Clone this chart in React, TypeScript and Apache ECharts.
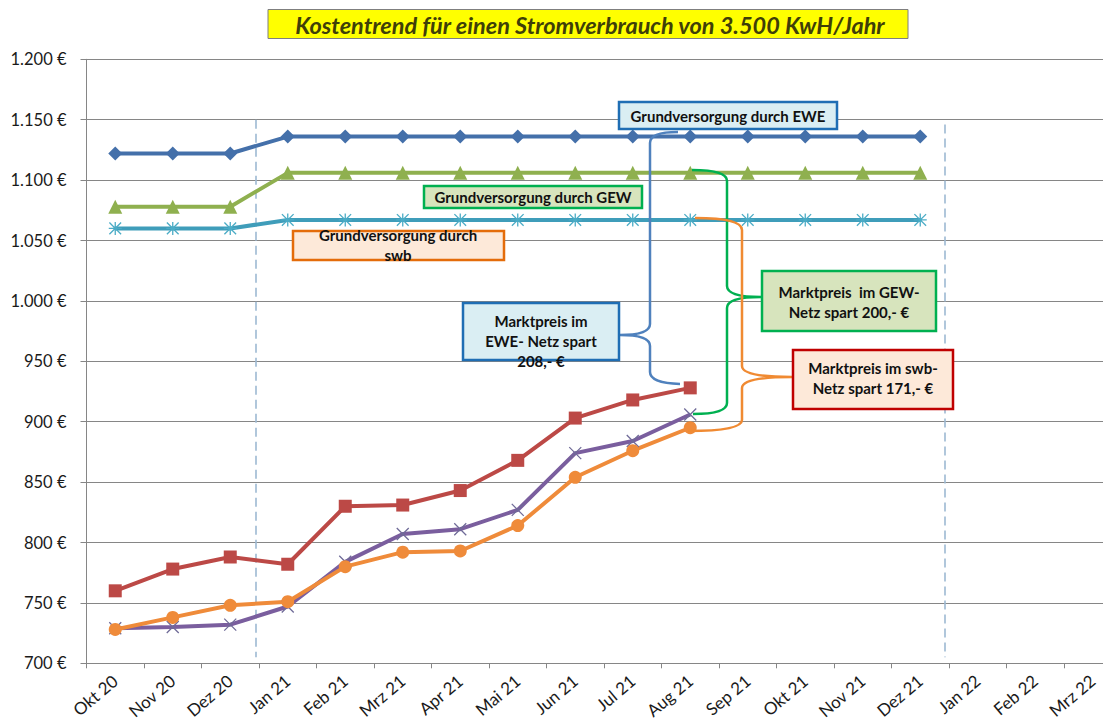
import React, { useEffect, useRef } from "react";
import * as echarts from "echarts";

const months = ["Okt 20", "Nov 20", "Dez 20", "Jan 21", "Feb 21", "Mrz 21", "Apr 21", "Mai 21", "Jun 21", "Jul 21", "Aug 21", "Sep 21", "Okt 21", "Nov 21", "Dez 21", "Jan 22", "Feb 22", "Mrz 22"];
const grundEwe = [1122, 1122, 1122, 1136, 1136, 1136, 1136, 1136, 1136, 1136, 1136, 1136, 1136, 1136, 1136];
const grundGew = [1078, 1078, 1078, 1106, 1106, 1106, 1106, 1106, 1106, 1106, 1106, 1106, 1106, 1106, 1106];
const grundSwb = [1060, 1060, 1060, 1067, 1067, 1067, 1067, 1067, 1067, 1067, 1067, 1067, 1067, 1067, 1067];
const marktEwe = [760, 778, 788, 782, 830, 831, 843, 868, 903, 918, 928];
const marktGew = [729, 730, 732, 747, 784, 807, 811, 827, 874, 884, 906];
const marktSwb = [728, 738, 748, 751, 780, 792, 793, 814, 854, 876, 895];
const yMin = 700;
const yMax = 1200;
const yStep = 50;

const titleText = "Kostentrend für einen Stromverbrauch von 3.500 KwH/Jahr";

echarts.graphic.registerShape(
  "braceEwe",
  echarts.graphic.extendPath("M678 132 Q650 132 650 143 L650 324 Q650 335 620 335 Q650 335 650 346 L650 372 Q650 383 680 384", {})
);
echarts.graphic.registerShape(
  "braceGew",
  echarts.graphic.extendPath("M692 170 Q727 170 727 181 L727 286 Q727 297 761 297 Q727 297 727 308 L727 403 Q727 414 693 414", {})
);
echarts.graphic.registerShape(
  "braceSwb",
  echarts.graphic.extendPath("M695 218 Q742 218 742 230 L742 366 Q742 377 792 377 Q742 377 742 388 L742 420 Q742 431 688 431", {})
);

const fmtEuro = (v: number) => {
  const s = v >= 1000 ? Math.floor(v / 1000) + "." + String(v % 1000).padStart(3, "0") : String(v);
  return s + " €";
};

const FONT = "Lato";

function box(x: number, y: number, w: number, h: number, fill: string, stroke: string, text: string, tx: number, ty: number) {
  return [
    { type: "rect", shape: { x, y, width: w, height: h }, style: { fill, stroke, lineWidth: 2.5 }, z: 100 },
    {
      type: "text",
      x: tx,
      y: ty,
      style: {
        text,
        fill: "#111",
        font: `bold 15px ${FONT}`,
        align: "center",
        verticalAlign: "middle",
        lineHeight: 20,
      },
      z: 101,
    },
  ];
}

export default function App() {
  const ref = useRef<HTMLDivElement>(null);
  useEffect(() => {
    if (!ref.current) return;
    const chart = echarts.init(ref.current, undefined, { renderer: "svg" });
    const crossSym = "path://M0 0 L10 10 M10 0 L0 10";
    const starSym = "path://M5 0 L5 10 M0.5 0.5 L9.5 9.5 M9.5 0.5 L0.5 9.5 M0 5 L10 5";
    const lineSeries = (name: string, data: number[], color: string, symbol: string, size: number) => ({
      name,
      type: "line",
      data,
      symbol,
      symbolSize: size,
      showSymbol: true,
      lineStyle: { color, width: 4 },
      itemStyle: { color },
      emphasis: { disabled: true },
      z: 2,
    });
    chart.setOption({
      animation: false,
      backgroundColor: "#ffffff",
      grid: { left: 86.5, top: 59.3, width: 1035, height: 604, outerBoundsMode: "none", containLabel: false },
      xAxis: {
        type: "category",
        data: months,
        boundaryGap: true,
        axisLine: { lineStyle: { color: "#868686", width: 1 } },
        axisTick: { show: true, length: 5, lineStyle: { color: "#868686" } },
        axisLabel: { rotate: 40, fontFamily: FONT, fontSize: 17, color: "#1a1a1a", margin: 15, interval: 0 },
        splitLine: { show: false },
      },
      yAxis: {
        type: "value",
        min: yMin,
        max: yMax,
        interval: yStep,
        axisLine: { show: true, lineStyle: { color: "#868686", width: 1 } },
        axisTick: { show: true, length: 6, lineStyle: { color: "#868686" } },
        axisLabel: { formatter: fmtEuro, fontFamily: FONT, fontSize: 16.5, color: "#1a1a1a", margin: 20 },
        splitLine: { show: true, lineStyle: { color: "#868686", width: 1 } },
      },
      series: [
        lineSeries("Grundversorgung EWE", grundEwe, "#4470AA", "diamond", 14),
        lineSeries("Grundversorgung GEW", grundGew, "#8FB04F", "triangle", 14),
        {
          ...lineSeries("Grundversorgung swb", grundSwb, "#3F9DBA", starSym, 13),
          itemStyle: { color: "#4BACC6", borderColor: "#4BACC6", borderWidth: 1.3 },
        },
        lineSeries("Marktpreis EWE-Netz", marktEwe, "#BC4946", "rect", 13),
        {
          ...lineSeries("Marktpreis GEW-Netz", marktGew, "#7A5E9E", crossSym, 12),
          itemStyle: { color: "#6E6A9E", borderColor: "#6F6B98", borderWidth: 1.3 },
        },
        lineSeries("Marktpreis swb-Netz", marktSwb, "#EF8B3A", "circle", 13),
      ],
    });

    const xPix = (i: number) => chart.convertToPixel({ xAxisIndex: 0 }, i) as number;
    const yPix = (v: number) => chart.convertToPixel({ yAxisIndex: 0 }, v) as number;
    const b1 = (xPix(2) + xPix(3)) / 2 - 3;
    const b2 = (xPix(14) + xPix(15)) / 2 - 4;
    const dashStyle = { stroke: "#9DB9D3", lineWidth: 1.6, lineDash: [9, 5] };

    chart.setOption({
      graphic: [
        { type: "line", shape: { x1: b1, y1: yPix(1150), x2: b1, y2: yPix(705) }, style: dashStyle, z: 1 },
        { type: "line", shape: { x1: b2, y1: yPix(1146), x2: b2, y2: yPix(705) }, style: dashStyle, z: 1 },
        { type: "rect", shape: { x: 268, y: 9.5, width: 640, height: 29 }, style: { fill: "#FFFF00", stroke: "#7F7F7F", lineWidth: 1 }, z: 100 },
        {
          type: "text",
          x: 590,
          y: 24.5,
          style: { text: titleText, fill: "#3F3F08", font: `italic bold 23.5px ${FONT}`, align: "center", verticalAlign: "middle" },
          z: 101,
        },
        { type: "braceEwe", x: 0, y: 0, style: { stroke: "#4F81BD", fill: "none", lineWidth: 2.5 }, z: 90 },
        { type: "braceGew", x: 0, y: 0, style: { stroke: "#00B050", fill: "none", lineWidth: 2.5 }, z: 90 },
        { type: "braceSwb", x: 0, y: 0, style: { stroke: "#F08A32", fill: "none", lineWidth: 2.5 }, z: 90 },
        ...box(619, 102, 218, 27, "#DAEEF3", "#1F6EB4", "Grundversorgung durch EWE", 728, 115.5),
        ...box(424, 186, 218, 22, "#D7E4BD", "#00B050", "Grundversorgung durch GEW", 533, 197),
        ...box(293, 231, 211, 29, "#FDE9D9", "#E46C0A", "Grundversorgung durch\nswb", 398, 245),
        ...box(463, 303, 156, 57, "#DAEEF3", "#1F6EB4", "Marktpreis im\nEWE- Netz spart\n208,- €", 541, 341),
        ...box(762, 271, 174, 60, "#D7E4BD", "#00B050", "Marktpreis  im GEW-\nNetz spart 200,- €", 849, 301.5),
        ...box(793, 350, 160, 59, "#FDE9D9", "#C00000", "Marktpreis im swb-\nNetz spart 171,- €", 873, 377.5),
      ],
    });
    return () => chart.dispose();
  }, []);
  return <div ref={ref} style={{ position: "absolute", left: 0, top: 0, width: 1103, height: 724 }} />;
}
